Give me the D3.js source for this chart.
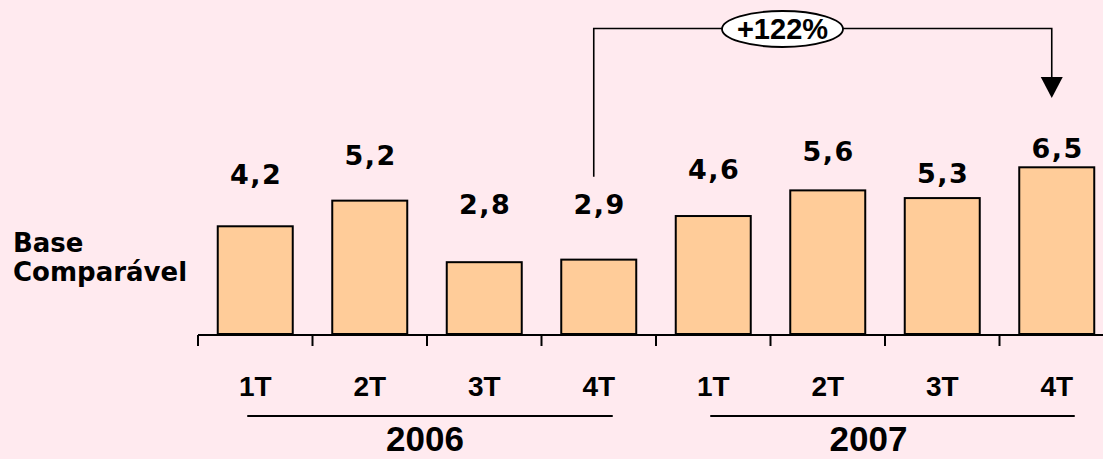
<!DOCTYPE html>
<html>
<head>
<meta charset="utf-8">
<script src="https://cdn.jsdelivr.net/npm/d3@7"></script>
<style>
  html, body { margin: 0; padding: 0; background: #FFEAEF; }
  svg { display: block; }
</style>
</head>
<body>
<svg id="chart" width="1103" height="459"></svg>
<script>
// ---- data ----
const quarters = ["1T", "2T", "3T", "4T", "1T", "2T", "3T", "4T"];
const periodYears = ["2006", "2006", "2006", "2006", "2007", "2007", "2007", "2007"];
const values = [4.2, 5.2, 2.8, 2.9, 4.6, 5.6, 5.3, 6.5];
const years = ["2006", "2007"];
const growthLabel = "+122%";
const growthFrom = 3;   // index of 4T 2006
const growthTo = 7;     // index of 4T 2007
const axisTitleLines = ["Base", "Comparável"];

// label placement tweaks (pixels above the bar top), as in the original slide
const labelLift = [42, 36, 48, 46, 37, 29, 15, 9];
const yearLineInset = [[8, 14], [3, 18]];
const yearLabelShift = [-5, -24];

// ---- layout ----
const svg = d3.select("#chart");
const W = 1103, H = 459;
svg.append("rect").attr("width", W).attr("height", H).attr("fill", "#FFEAEF");

const ids = quarters.map((q, i) => periodYears[i] + "-" + q);
const x = d3.scaleBand()
  .domain(ids)
  .range([198, 198 + 8 * 114.5])
  .paddingInner(0.345)
  .paddingOuter(0.345 / 2);
const y = d3.scaleLinear().domain([0, 6.5]).range([334, 167.3]);
const cx = i => x(ids[i]) + x.bandwidth() / 2;

// bars
svg.append("g").selectAll("rect")
  .data(values)
  .join("rect")
  .attr("x", (d, i) => x(ids[i]))
  .attr("y", d => y(d))
  .attr("width", x.bandwidth())
  .attr("height", d => y(0) - y(d))
  .attr("fill", "#FFCC99")
  .attr("stroke", "#000")
  .attr("stroke-width", 2);

// axis line + ticks
const axisY = y(0) + 1;
svg.append("line")
  .attr("x1", x.range()[0]).attr("x2", W)
  .attr("y1", axisY).attr("y2", axisY)
  .attr("stroke", "#000").attr("stroke-width", 2.2);
const tickXs = d3.range(ids.length + 1).map(i => x.range()[0] + i * x.step());
svg.append("g").selectAll("line")
  .data(tickXs)
  .join("line")
  .attr("x1", d => d).attr("x2", d => d)
  .attr("y1", axisY).attr("y2", axisY + 11)
  .attr("stroke", "#000").attr("stroke-width", 2);

// value labels
svg.append("g").selectAll("text")
  .data(values)
  .join("text")
  .attr("x", (d, i) => cx(i) + 1)
  .attr("y", (d, i) => y(d) - labelLift[i])
  .attr("text-anchor", "middle")
  .attr("font-family", "'DejaVu Sans', Verdana, sans-serif")
  .attr("font-weight", "bold")
  .attr("font-size", 27)
  .attr("letter-spacing", 1.5)
  .attr("fill", "#000")
  .text(d => String(d).replace(".", ","));

// quarter labels
svg.append("g").selectAll("text")
  .data(quarters)
  .join("text")
  .attr("x", (d, i) => cx(i))
  .attr("y", 396)
  .attr("text-anchor", "middle")
  .attr("font-family", "'Liberation Sans', Arial, sans-serif")
  .attr("font-weight", "bold")
  .attr("font-size", 28)
  .attr("fill", "#000")
  .text(d => d);

// year groups
years.forEach((yr, k) => {
  const idx = periodYears.map((p, i) => p === yr ? i : -1).filter(i => i >= 0);
  const x1 = cx(idx[0]) - yearLineInset[k][0];
  const x2 = cx(idx[idx.length - 1]) + yearLineInset[k][1];
  svg.append("line")
    .attr("x1", x1).attr("x2", x2)
    .attr("y1", 416).attr("y2", 416)
    .attr("stroke", "#000").attr("stroke-width", 2);
  svg.append("text")
    .attr("x", (x1 + x2) / 2 + yearLabelShift[k])
    .attr("y", 451)
    .attr("text-anchor", "middle")
    .attr("font-family", "'Liberation Sans', Arial, sans-serif")
    .attr("font-weight", "bold")
    .attr("font-size", 35)
    .attr("fill", "#000")
    .text(yr);
});

// axis title
const title = svg.append("text")
  .attr("font-family", "'DejaVu Sans', Verdana, sans-serif")
  .attr("font-weight", "bold")
  .attr("font-size", 26)
  .attr("fill", "#000");
axisTitleLines.forEach((t, i) => {
  title.append("tspan").attr("x", 13).attr("y", 252 + i * 29).text(t);
});

// growth annotation
const ax1 = cx(growthFrom) - 5;
const ax2 = cx(growthTo) - 5;
const topY = 28.5;
const tipY = 98;
svg.append("path")
  .attr("d", `M${ax1},${y(values[growthFrom]) - 83} V${topY} H${ax2} V${tipY - 20}`)
  .attr("fill", "none")
  .attr("stroke", "#000")
  .attr("stroke-width", 1.6);
svg.append("path")
  .attr("d", `M${ax2 - 11},${tipY - 21} L${ax2 + 11},${tipY - 21} L${ax2},${tipY} Z`)
  .attr("fill", "#000");
const ex = 782.5, ey = 29;
svg.append("ellipse")
  .attr("cx", ex).attr("cy", ey)
  .attr("rx", 60.5).attr("ry", 18)
  .attr("fill", "#fff")
  .attr("stroke", "#000")
  .attr("stroke-width", 1.8);
svg.append("text")
  .attr("x", ex)
  .attr("y", ey + 10)
  .attr("text-anchor", "middle")
  .attr("font-family", "'Liberation Sans', Arial, sans-serif")
  .attr("font-weight", "bold")
  .attr("font-size", 29)
  .attr("fill", "#000")
  .text(growthLabel);
</script>
</body>
</html>
